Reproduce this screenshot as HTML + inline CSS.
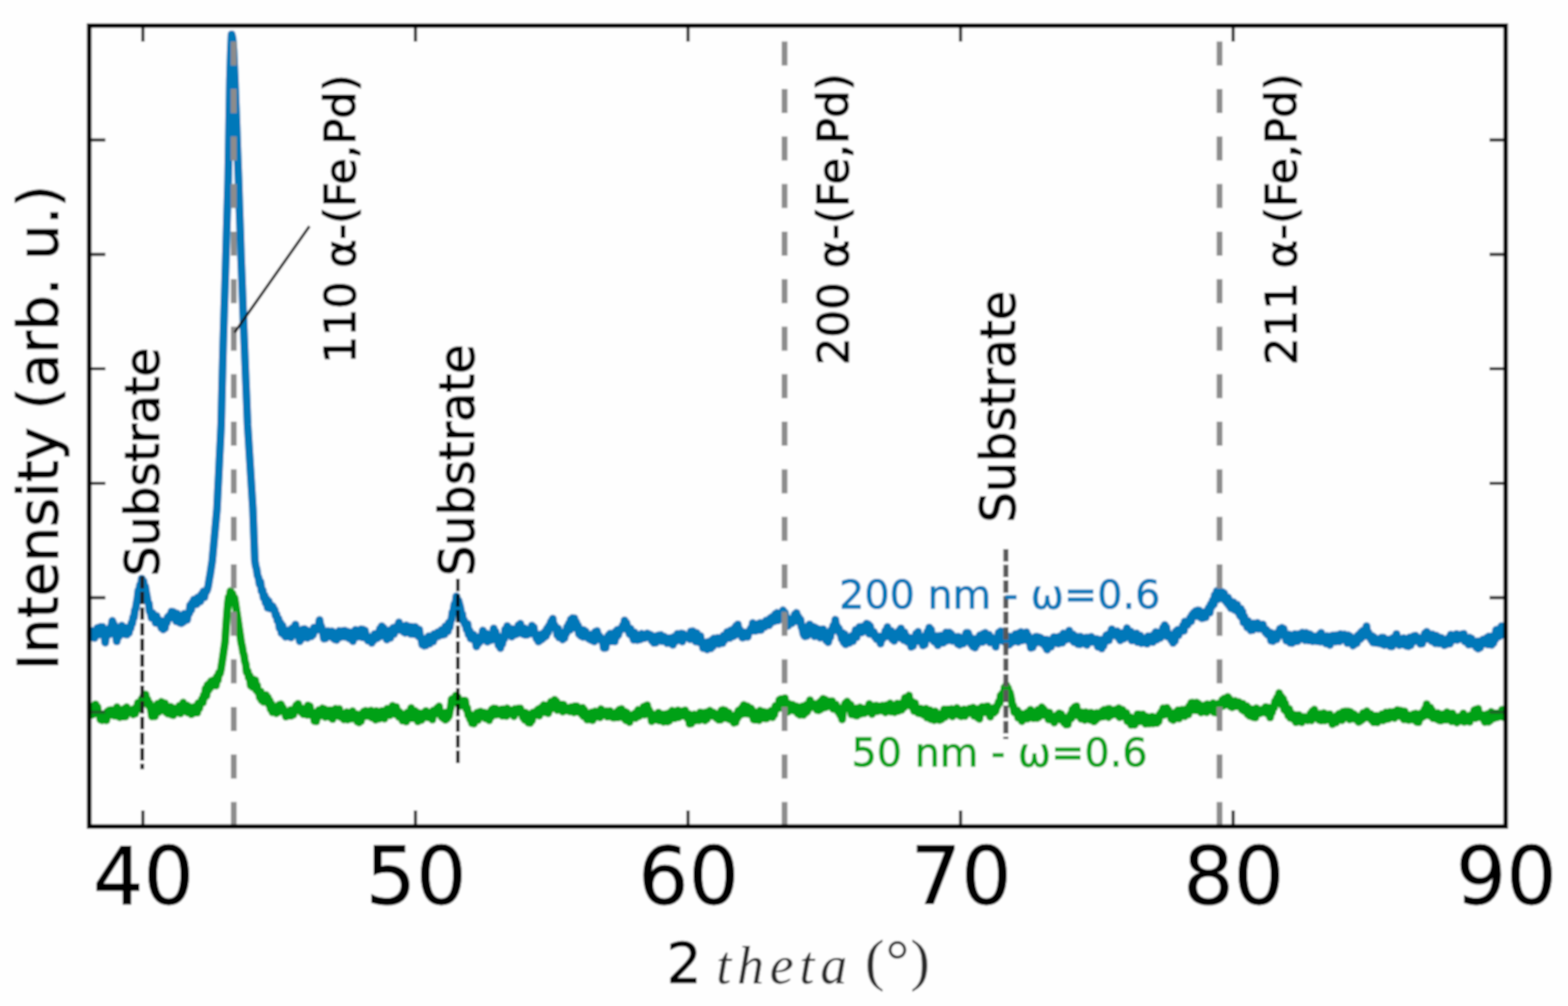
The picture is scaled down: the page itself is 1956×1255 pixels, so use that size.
<!DOCTYPE html>
<html lang="en"><head><meta charset="utf-8"><title>XRD pattern</title>
<style>html,body{margin:0;padding:0;background:#fefefe;overflow:hidden}svg{display:block}text{font-family:"DejaVu Sans","Liberation Sans",sans-serif;fill:#000}.it{font-family:"Liberation Serif","DejaVu Serif",serif;font-style:italic}.rm{font-family:"Liberation Serif","DejaVu Serif",serif}</style></head><body>
<svg width="1956" height="1255" viewBox="0 0 1956 1255">
<defs><clipPath id="ax"><rect x="111.3" y="31.9" width="1767.0" height="999.2"/></clipPath></defs>
<filter id="soft" x="0" y="0" width="100%" height="100%" filterUnits="userSpaceOnUse" primitiveUnits="userSpaceOnUse"><feGaussianBlur stdDeviation="1.1"/></filter>
<rect x="0" y="0" width="1956" height="1255" fill="#fefefe"/>
<g filter="url(#soft)">
<rect x="-20" y="-20" width="1996" height="1295" fill="#fefefe"/>
<g stroke="#333" stroke-width="3.8" fill="none" opacity="1">
<line x1="178.3" y1="1031.1" x2="178.3" y2="1011.1"/>
<line x1="178.3" y1="31.9" x2="178.3" y2="51.9"/>
<line x1="518.3" y1="1031.1" x2="518.3" y2="1011.1"/>
<line x1="518.3" y1="31.9" x2="518.3" y2="51.9"/>
<line x1="858.3" y1="1031.1" x2="858.3" y2="1011.1"/>
<line x1="858.3" y1="31.9" x2="858.3" y2="51.9"/>
<line x1="1198.3" y1="1031.1" x2="1198.3" y2="1011.1"/>
<line x1="1198.3" y1="31.9" x2="1198.3" y2="51.9"/>
<line x1="1538.3" y1="1031.1" x2="1538.3" y2="1011.1"/>
<line x1="1538.3" y1="31.9" x2="1538.3" y2="51.9"/>
<line x1="111.3" y1="174.6" x2="131.3" y2="174.6"/>
<line x1="1878.3" y1="174.6" x2="1858.3" y2="174.6"/>
<line x1="111.3" y1="317.4" x2="131.3" y2="317.4"/>
<line x1="1878.3" y1="317.4" x2="1858.3" y2="317.4"/>
<line x1="111.3" y1="460.1" x2="131.3" y2="460.1"/>
<line x1="1878.3" y1="460.1" x2="1858.3" y2="460.1"/>
<line x1="111.3" y1="602.9" x2="131.3" y2="602.9"/>
<line x1="1878.3" y1="602.9" x2="1858.3" y2="602.9"/>
<line x1="111.3" y1="745.6" x2="131.3" y2="745.6"/>
<line x1="1878.3" y1="745.6" x2="1858.3" y2="745.6"/>
<line x1="111.3" y1="888.4" x2="131.3" y2="888.4"/>
<line x1="1878.3" y1="888.4" x2="1858.3" y2="888.4"/>
</g>
<g clip-path="url(#ax)" fill="none" stroke-linejoin="round" stroke-linecap="butt">
<path d="M110.1 790.2 L111.3 795.3 L112.4 789.1 L113.5 795.3 L114.6 787.3 L115.8 792.0 L116.9 790.3 L118.0 795.8 L119.1 788.6 L120.3 792.1 L121.4 783.5 L122.4 791.8 L123.5 782.7 L124.6 790.1 L125.7 782.1 L126.8 786.6 L127.9 782.2 L129.0 791.6 L130.1 791.0 L131.2 801.7 L132.5 790.6 L133.8 793.3 L135.0 785.5 L136.3 791.4 L137.6 783.0 L138.8 783.0 L140.1 774.5 L141.4 778.2 L142.4 779.3 L143.5 788.1 L144.5 788.1 L145.6 800.1 L146.9 789.4 L148.1 794.4 L149.4 784.0 L150.7 790.1 L151.9 780.4 L153.2 788.0 L154.5 787.0 L155.7 791.2 L157.0 783.3 L158.3 791.6 L159.5 784.3 L160.8 789.5 L161.9 782.2 L162.9 784.0 L164.0 777.0 L165.0 777.9 L166.1 769.9 L167.1 770.3 L168.2 761.2 L169.2 759.5 L170.4 752.3 L171.5 746.5 L172.6 736.5 L173.7 737.7 L174.7 729.5 L175.8 734.9 L176.8 721.9 L177.9 732.2 L179.0 725.3 L180.0 732.6 L181.1 731.5 L182.2 738.7 L183.3 744.2 L184.4 751.1 L185.6 752.6 L186.7 762.6 L187.8 763.2 L189.1 770.8 L190.4 764.8 L191.6 770.6 L192.9 768.8 L194.1 777.1 L195.3 768.5 L196.5 776.0 L197.7 772.8 L198.9 778.9 L200.1 775.2 L201.3 783.4 L202.5 774.9 L203.6 785.3 L204.7 775.3 L205.8 783.7 L207.0 774.6 L208.1 776.9 L209.2 769.9 L210.3 772.2 L211.5 767.7 L212.7 770.7 L214.0 762.9 L215.3 766.8 L216.5 763.4 L217.6 771.1 L218.6 765.3 L219.7 775.0 L220.8 765.5 L221.8 774.4 L222.9 769.6 L223.9 776.8 L225.0 770.3 L226.2 777.4 L227.4 769.3 L228.6 776.0 L229.8 765.7 L231.0 774.0 L232.2 767.1 L233.4 773.3 L234.7 764.6 L236.0 765.3 L237.2 755.0 L238.5 760.8 L239.6 751.7 L240.7 753.5 L241.9 747.9 L243.0 754.1 L244.1 749.5 L245.2 753.7 L246.4 745.6 L247.5 750.1 L248.6 745.0 L249.9 750.4 L251.2 741.4 L252.4 746.3 L253.7 737.8 L255.0 745.1 L256.2 738.2 L257.5 738.0 L258.8 734.9 L259.9 730.0 L261.0 722.8 L262.1 716.9 L263.4 708.4 L264.7 700.0 L265.9 687.0 L267.1 674.0 L268.3 661.0 L269.5 648.0 L270.7 635.0 L271.7 614.0 L272.8 593.0 L273.8 572.0 L274.9 551.0 L275.9 530.0 L277.1 480.0 L278.4 430.0 L279.5 393.3 L280.7 356.7 L281.8 320.0 L283.2 272.2 L284.6 224.5 L285.9 150.0 L286.8 100.0 L288.0 62.0 L288.9 42.9 L290.1 48.0 L291.2 62.0 L292.1 81.0 L293.0 100.0 L293.9 125.0 L294.9 150.0 L296.2 187.2 L297.6 224.5 L298.6 256.3 L299.7 288.2 L300.7 320.0 L301.8 347.5 L302.8 375.0 L303.8 402.5 L304.9 430.0 L306.2 463.3 L307.6 496.7 L308.9 530.0 L310.0 547.5 L311.1 565.0 L312.2 582.5 L313.3 600.0 L314.4 617.5 L315.5 635.0 L316.7 667.5 L317.9 699.3 L319.0 706.3 L320.1 709.9 L321.2 717.8 L322.5 720.8 L323.8 729.1 L325.0 726.0 L326.3 737.7 L327.6 736.1 L328.8 746.0 L330.1 742.7 L331.4 752.4 L332.6 747.3 L333.9 758.3 L335.2 750.3 L336.4 759.1 L337.7 754.5 L339.0 759.8 L340.2 756.5 L341.5 759.7 L342.6 760.7 L343.8 768.3 L344.9 766.4 L346.1 774.6 L347.4 771.8 L348.7 783.8 L349.9 777.2 L351.2 789.9 L352.5 780.7 L353.7 791.5 L355.0 788.9 L356.1 794.4 L357.3 788.6 L358.4 792.5 L359.5 786.5 L360.6 794.3 L361.8 788.4 L362.9 795.2 L364.0 784.0 L365.1 788.5 L366.3 782.6 L367.4 788.0 L368.5 779.2 L369.6 787.7 L370.6 787.2 L371.7 793.4 L372.7 792.8 L373.9 799.9 L375.1 792.1 L376.3 797.1 L377.5 785.3 L378.7 794.4 L379.9 784.7 L381.1 790.5 L382.3 786.3 L383.5 795.7 L384.7 789.9 L385.9 792.9 L387.1 789.2 L388.2 793.8 L389.4 786.7 L390.5 791.8 L391.6 783.0 L392.7 787.5 L393.9 785.3 L395.0 785.6 L396.2 781.6 L397.4 781.9 L398.6 773.5 L399.8 780.3 L400.8 781.4 L401.9 787.8 L402.9 789.2 L404.0 796.8 L405.1 791.0 L406.2 796.4 L407.4 787.5 L408.5 792.6 L409.6 787.4 L410.7 790.1 L411.9 788.0 L413.0 794.2 L414.1 787.6 L415.3 796.0 L416.4 793.9 L417.5 797.7 L418.6 792.9 L419.8 798.4 L420.9 788.9 L422.0 795.5 L423.1 787.1 L424.3 795.1 L425.4 788.0 L426.6 793.1 L427.7 787.0 L428.9 794.2 L430.0 786.7 L431.1 794.4 L432.3 787.6 L433.4 793.0 L434.5 788.3 L435.6 796.6 L436.8 792.0 L437.9 796.3 L439.0 791.2 L440.1 799.9 L441.3 787.8 L442.4 794.9 L443.5 785.8 L444.6 794.9 L445.8 787.0 L446.9 790.9 L448.1 787.1 L449.3 793.8 L450.5 785.1 L451.7 795.1 L452.9 785.4 L454.1 794.9 L455.3 786.7 L456.5 796.2 L457.7 793.0 L459.0 799.3 L460.2 796.5 L461.4 799.7 L462.6 795.1 L463.8 802.1 L464.9 798.6 L466.0 799.0 L467.2 790.9 L468.3 796.1 L469.4 792.3 L470.5 796.3 L471.7 789.2 L472.8 794.7 L473.9 784.5 L475.0 792.9 L476.2 781.2 L477.3 789.8 L478.6 783.3 L479.8 791.1 L481.1 787.7 L482.4 797.9 L483.5 789.0 L484.6 793.4 L485.7 786.6 L486.9 795.7 L488.0 788.1 L489.1 790.1 L490.3 783.3 L491.5 790.9 L492.7 783.1 L493.9 785.4 L495.1 781.1 L496.3 785.9 L497.6 776.4 L498.7 784.6 L499.8 780.2 L500.9 786.3 L502.1 782.0 L503.2 788.1 L504.3 785.2 L505.4 789.4 L506.6 780.3 L507.7 788.9 L508.8 781.5 L509.9 787.5 L511.1 781.8 L512.2 790.8 L513.3 781.9 L514.4 789.5 L515.6 783.5 L516.9 791.1 L518.1 782.1 L519.3 789.4 L520.5 787.5 L521.7 793.6 L522.9 785.4 L524.2 795.8 L525.4 794.9 L526.7 804.2 L528.0 803.2 L529.1 805.6 L530.2 800.9 L531.3 805.1 L532.5 798.0 L533.6 800.9 L534.7 793.7 L535.8 803.1 L537.0 794.7 L538.1 800.6 L539.2 792.9 L540.3 800.3 L541.5 790.9 L542.6 796.0 L543.7 791.8 L544.8 793.5 L546.0 788.8 L547.3 793.6 L548.5 788.5 L549.7 791.5 L550.9 785.8 L552.1 791.9 L553.3 784.8 L554.4 791.4 L555.5 781.5 L556.5 787.8 L557.6 780.2 L558.7 787.6 L559.8 776.8 L560.9 782.6 L562.1 774.6 L563.2 772.8 L564.4 763.6 L565.6 762.3 L566.9 753.6 L568.1 754.9 L569.3 743.9 L570.6 750.8 L571.9 749.3 L573.2 754.0 L574.3 758.3 L575.5 766.1 L576.6 765.7 L577.7 774.8 L578.8 773.4 L579.8 778.9 L580.9 777.5 L582.0 785.4 L583.3 778.4 L584.5 791.6 L585.8 786.8 L587.1 796.5 L588.3 790.7 L589.5 797.4 L590.7 791.8 L591.9 798.9 L593.1 798.6 L594.3 806.4 L595.5 800.9 L596.6 803.2 L597.8 794.8 L598.9 800.5 L600.0 793.5 L601.1 794.1 L602.3 786.6 L603.4 794.4 L604.5 791.2 L605.6 798.3 L606.8 790.5 L607.9 800.6 L609.0 796.1 L610.1 799.1 L611.3 794.3 L612.4 798.7 L613.5 791.8 L614.6 796.6 L615.8 784.0 L617.0 792.7 L618.2 788.2 L619.4 798.6 L620.6 793.4 L621.8 805.0 L623.0 800.4 L624.2 808.5 L625.4 798.1 L626.6 803.4 L627.8 794.3 L629.0 797.3 L630.2 785.0 L631.5 791.1 L632.7 781.0 L633.8 786.7 L634.9 783.5 L636.0 790.3 L637.2 784.5 L638.3 794.3 L639.4 787.6 L640.6 791.5 L641.8 784.7 L643.0 791.5 L644.2 784.9 L645.4 790.6 L646.7 779.9 L647.9 783.9 L649.1 778.1 L650.3 786.0 L651.5 783.3 L652.7 791.1 L653.9 783.8 L655.1 792.1 L656.3 785.4 L657.5 791.8 L658.7 785.8 L659.9 788.8 L661.1 785.7 L662.3 790.3 L663.5 780.5 L664.7 787.7 L665.9 782.7 L667.0 791.8 L668.1 790.2 L669.3 797.0 L670.4 792.1 L671.5 800.4 L672.7 795.2 L673.9 799.1 L675.1 791.3 L676.3 797.3 L677.5 791.3 L678.7 795.1 L679.9 787.7 L681.2 793.5 L682.4 783.9 L683.6 789.1 L684.8 780.4 L686.0 781.1 L687.2 775.7 L688.4 775.4 L689.5 771.8 L690.6 783.3 L691.8 779.5 L692.9 784.9 L694.0 782.8 L695.1 792.4 L696.3 784.2 L697.4 795.3 L698.5 788.3 L699.7 794.8 L700.8 792.2 L701.9 797.8 L703.0 790.9 L704.2 795.9 L705.3 788.7 L706.4 790.3 L707.5 781.6 L708.7 785.1 L709.8 777.6 L710.9 785.9 L712.0 772.8 L713.2 779.2 L714.3 771.1 L715.4 776.1 L716.5 771.4 L717.7 783.2 L718.8 776.2 L719.9 784.8 L721.0 780.4 L722.2 791.0 L723.4 784.5 L724.6 793.3 L725.8 788.8 L727.0 794.5 L728.2 786.1 L729.4 793.9 L730.6 787.8 L731.8 795.0 L733.0 791.1 L734.2 796.8 L735.4 793.4 L736.6 798.1 L737.9 791.5 L739.1 799.2 L740.2 791.8 L741.3 800.3 L742.4 788.3 L743.6 794.1 L744.7 787.2 L745.8 795.1 L747.0 792.3 L748.2 797.5 L749.4 795.2 L750.6 799.8 L751.8 797.4 L753.1 808.4 L754.3 802.4 L755.4 808.3 L756.6 797.0 L757.7 800.9 L758.9 792.7 L760.0 800.1 L761.1 790.4 L762.3 800.1 L763.4 790.9 L764.5 797.5 L765.6 789.9 L766.8 800.2 L767.9 787.9 L769.0 794.7 L770.1 785.7 L771.3 792.1 L772.4 786.4 L773.5 786.9 L774.6 783.7 L775.8 784.6 L776.9 780.1 L778.0 783.2 L779.1 774.0 L780.3 780.2 L781.5 776.9 L782.8 786.2 L784.1 783.0 L785.3 790.9 L786.6 784.4 L787.9 793.1 L789.1 790.1 L790.4 798.3 L791.5 789.0 L792.7 796.5 L793.8 792.0 L794.9 798.5 L796.0 791.9 L797.2 798.0 L798.3 795.5 L799.4 797.4 L800.5 790.6 L801.7 796.4 L802.8 791.8 L803.9 796.1 L805.0 792.4 L806.2 794.9 L807.3 790.2 L808.4 793.7 L809.5 791.1 L810.7 792.3 L811.9 792.3 L813.2 799.5 L814.5 798.0 L815.7 802.0 L816.9 797.2 L818.1 801.7 L819.4 793.3 L820.6 797.3 L821.8 792.6 L823.0 796.8 L824.2 792.2 L825.3 799.8 L826.4 793.4 L827.6 797.3 L828.7 794.3 L829.8 799.9 L830.9 795.7 L832.1 802.3 L833.3 798.9 L834.6 801.2 L835.8 796.1 L837.0 802.9 L838.2 796.3 L839.4 804.4 L840.5 794.6 L841.6 801.2 L842.8 796.1 L843.9 798.8 L845.0 790.7 L846.1 798.5 L847.3 792.2 L848.5 795.6 L849.7 790.3 L851.0 800.4 L852.2 790.8 L853.4 795.1 L854.6 793.9 L855.8 795.3 L857.0 792.7 L858.2 794.6 L859.4 792.8 L860.6 797.5 L861.8 787.7 L863.0 794.5 L864.2 787.5 L865.4 797.0 L866.6 789.4 L867.8 800.4 L869.1 789.6 L870.3 796.5 L871.5 794.1 L872.6 801.5 L873.7 793.4 L874.8 801.5 L876.0 799.8 L877.1 808.5 L878.2 803.6 L879.5 807.8 L880.8 803.2 L882.0 810.2 L883.3 800.8 L884.5 807.1 L885.7 800.4 L886.9 808.8 L888.1 798.4 L889.3 806.3 L890.5 796.5 L891.7 803.8 L892.9 798.3 L894.1 802.6 L895.3 795.8 L896.6 803.5 L897.8 798.1 L899.0 801.3 L900.2 795.2 L901.3 802.3 L902.4 793.0 L903.6 798.9 L904.7 792.0 L905.8 795.4 L906.9 788.5 L908.1 792.9 L909.2 788.7 L910.3 795.9 L911.4 786.4 L912.6 791.1 L913.7 787.7 L914.8 793.8 L915.9 783.8 L917.1 792.3 L918.2 780.8 L919.3 788.3 L920.4 779.0 L921.6 790.7 L922.7 785.5 L923.8 792.0 L924.9 790.3 L926.1 795.6 L927.2 788.8 L928.3 794.8 L929.4 789.3 L930.6 793.1 L931.7 790.3 L932.8 794.4 L934.0 787.7 L935.2 788.2 L936.5 783.9 L937.8 787.2 L939.0 777.3 L940.1 781.6 L941.3 779.3 L942.4 786.9 L943.5 779.4 L944.6 784.7 L945.8 778.3 L947.0 785.9 L948.2 777.2 L949.4 785.9 L950.6 777.6 L951.8 782.6 L953.0 779.6 L954.2 782.0 L955.5 774.3 L956.8 778.8 L958.0 775.4 L959.3 780.1 L960.4 771.6 L961.5 777.5 L962.7 770.0 L963.8 773.7 L964.9 768.6 L966.0 775.1 L967.2 765.9 L968.3 773.6 L969.4 764.6 L970.6 774.1 L971.8 765.9 L973.0 771.6 L974.2 764.4 L975.4 767.9 L976.7 761.3 L977.9 769.3 L979.1 764.3 L980.4 773.3 L981.7 771.6 L982.9 780.7 L984.2 772.3 L985.5 776.9 L986.7 772.7 L988.0 777.5 L989.1 772.3 L990.2 775.6 L991.4 766.4 L992.5 772.6 L993.6 764.6 L994.7 770.7 L996.0 769.5 L997.3 776.3 L998.5 772.7 L999.8 782.2 L1000.9 784.1 L1002.1 790.6 L1003.2 792.9 L1004.3 794.0 L1005.4 785.0 L1006.6 793.2 L1007.7 781.4 L1008.8 790.6 L1009.9 778.9 L1011.2 789.6 L1012.5 781.8 L1013.7 789.4 L1015.0 782.1 L1016.1 793.8 L1017.3 783.2 L1018.4 792.7 L1019.5 785.3 L1020.6 793.4 L1021.8 785.2 L1023.0 795.5 L1024.3 786.6 L1025.6 793.0 L1026.8 785.0 L1028.1 790.7 L1029.4 790.4 L1030.6 799.1 L1031.9 798.5 L1033.2 801.3 L1034.4 794.0 L1035.7 795.0 L1037.0 785.8 L1038.2 788.2 L1039.5 780.4 L1040.8 784.8 L1042.0 773.1 L1043.2 782.0 L1044.3 781.1 L1045.4 786.6 L1046.5 783.9 L1047.7 789.9 L1048.8 789.9 L1050.0 797.3 L1051.2 789.7 L1052.4 801.4 L1053.6 791.1 L1054.8 803.8 L1056.0 797.3 L1057.2 802.7 L1058.4 798.0 L1059.5 802.1 L1060.6 794.6 L1061.7 800.3 L1062.9 793.2 L1064.0 799.8 L1065.1 791.4 L1066.2 795.4 L1067.4 785.8 L1068.5 795.0 L1069.6 786.8 L1070.7 789.7 L1071.9 782.3 L1073.0 787.2 L1074.1 784.9 L1075.3 789.0 L1076.4 781.6 L1077.5 785.9 L1078.6 783.1 L1079.8 784.9 L1080.9 778.0 L1082.0 786.9 L1083.2 779.0 L1084.3 790.7 L1085.4 781.1 L1086.6 788.7 L1087.7 787.6 L1088.9 790.7 L1090.0 788.3 L1091.2 794.5 L1092.4 792.3 L1093.6 797.6 L1094.8 794.0 L1096.0 798.2 L1097.2 795.1 L1098.4 802.9 L1099.7 793.7 L1100.9 797.0 L1102.1 792.9 L1103.3 795.0 L1104.5 786.8 L1105.7 793.5 L1106.9 782.3 L1108.1 793.7 L1109.3 787.9 L1110.5 792.0 L1111.7 787.0 L1112.9 797.5 L1114.1 790.3 L1115.3 799.6 L1116.5 790.3 L1117.7 795.2 L1119.0 791.0 L1120.2 792.3 L1121.4 786.9 L1122.6 795.7 L1123.8 784.0 L1124.9 793.7 L1126.0 787.6 L1127.2 798.5 L1128.3 789.0 L1129.4 799.0 L1130.5 793.5 L1131.7 800.6 L1132.9 796.8 L1134.2 800.7 L1135.4 795.9 L1136.6 807.0 L1137.8 798.5 L1139.0 805.8 L1140.2 798.1 L1141.5 801.0 L1142.8 790.5 L1144.0 795.9 L1145.2 788.3 L1146.5 796.7 L1147.7 794.3 L1148.9 801.1 L1150.1 796.2 L1151.3 805.3 L1152.5 796.6 L1153.6 804.1 L1154.7 792.6 L1155.9 794.4 L1157.0 787.8 L1158.1 792.0 L1159.2 782.9 L1160.4 790.1 L1161.5 785.7 L1162.6 797.6 L1163.7 792.9 L1164.9 800.2 L1166.0 795.4 L1167.3 801.7 L1168.5 793.4 L1169.8 805.0 L1171.1 795.6 L1172.2 800.7 L1173.3 793.0 L1174.4 799.4 L1175.6 794.8 L1176.7 801.9 L1177.8 794.0 L1178.9 797.4 L1180.1 788.9 L1181.2 799.4 L1182.3 790.6 L1183.4 794.7 L1184.6 789.1 L1185.7 793.3 L1186.8 791.0 L1188.0 799.6 L1189.1 793.6 L1190.2 797.2 L1191.3 794.7 L1192.5 798.0 L1193.6 794.6 L1194.7 803.4 L1195.8 794.5 L1197.0 804.5 L1198.1 796.3 L1199.3 800.4 L1200.5 796.4 L1201.7 802.8 L1202.9 794.7 L1204.1 796.1 L1205.3 789.5 L1206.5 793.2 L1207.7 789.4 L1208.9 795.3 L1210.1 794.5 L1211.4 803.7 L1212.6 798.3 L1213.8 806.8 L1215.0 801.5 L1216.2 808.0 L1217.4 796.9 L1218.6 804.2 L1219.8 797.9 L1221.0 799.0 L1222.2 792.6 L1223.4 797.7 L1224.5 794.5 L1225.7 800.9 L1226.8 790.4 L1227.9 796.3 L1229.0 789.5 L1230.2 798.6 L1231.3 792.3 L1232.4 795.9 L1233.6 791.9 L1234.8 801.5 L1236.0 794.5 L1237.2 798.7 L1238.4 797.1 L1239.6 800.6 L1240.8 797.9 L1242.0 806.9 L1243.3 798.3 L1244.5 798.7 L1245.8 789.3 L1247.1 798.9 L1248.3 787.4 L1249.6 795.6 L1250.9 791.7 L1252.1 800.3 L1253.3 792.3 L1254.4 800.6 L1255.5 794.9 L1256.6 798.6 L1257.8 796.4 L1258.9 804.3 L1260.0 794.3 L1261.1 802.1 L1262.3 794.9 L1263.4 800.8 L1264.5 793.9 L1265.6 799.7 L1266.8 790.9 L1267.9 797.3 L1269.0 791.7 L1270.1 800.8 L1271.3 789.7 L1272.4 796.1 L1273.5 788.5 L1274.6 799.1 L1275.8 792.3 L1276.9 795.4 L1278.0 791.6 L1279.2 793.7 L1280.3 788.7 L1281.4 799.0 L1282.5 792.7 L1283.7 800.8 L1284.8 800.8 L1285.9 808.3 L1287.0 797.4 L1288.2 807.5 L1289.3 796.5 L1290.4 803.4 L1291.5 794.6 L1292.7 799.5 L1293.8 794.3 L1294.9 799.9 L1296.0 795.0 L1297.2 801.0 L1298.3 795.9 L1299.4 802.4 L1300.5 797.5 L1301.7 803.2 L1302.8 799.4 L1303.9 806.6 L1305.0 797.9 L1306.2 810.4 L1307.4 798.5 L1308.6 807.9 L1309.8 799.7 L1311.0 806.7 L1312.2 797.9 L1313.4 800.1 L1314.6 794.7 L1315.8 802.3 L1317.0 795.2 L1318.2 801.5 L1319.3 795.2 L1320.5 802.9 L1321.7 793.9 L1322.9 799.9 L1324.1 793.2 L1325.3 801.7 L1326.4 790.3 L1327.6 798.9 L1328.9 791.9 L1330.1 798.0 L1331.3 792.5 L1332.5 795.5 L1333.7 786.8 L1334.9 796.0 L1336.1 791.3 L1337.3 798.3 L1338.5 791.5 L1339.7 801.0 L1340.9 793.5 L1342.1 798.7 L1343.3 794.4 L1344.5 803.5 L1345.6 795.5 L1346.7 803.8 L1347.8 794.3 L1349.0 801.4 L1350.1 796.9 L1351.2 802.5 L1352.3 796.8 L1353.5 802.2 L1354.6 795.4 L1355.7 804.6 L1356.8 795.4 L1358.0 800.2 L1359.1 797.0 L1360.2 801.1 L1361.3 794.4 L1362.5 799.4 L1363.6 797.0 L1364.8 800.9 L1366.0 797.2 L1367.1 800.6 L1368.3 797.2 L1369.5 806.9 L1370.7 798.6 L1371.9 807.2 L1373.1 798.3 L1374.2 809.1 L1375.4 799.2 L1376.5 805.9 L1377.7 797.1 L1378.8 800.8 L1379.9 792.6 L1381.0 798.8 L1382.2 791.5 L1383.3 798.8 L1384.4 790.2 L1385.5 792.7 L1386.7 785.0 L1387.8 792.7 L1388.9 786.9 L1390.1 789.7 L1391.3 787.8 L1392.5 792.0 L1393.8 787.6 L1395.0 795.4 L1396.2 793.0 L1397.4 798.9 L1398.6 792.0 L1399.8 797.2 L1401.0 789.4 L1402.2 796.5 L1403.4 788.5 L1404.6 791.5 L1405.8 783.6 L1407.0 794.5 L1408.2 790.0 L1409.4 794.6 L1410.6 787.8 L1411.8 799.1 L1413.1 793.0 L1414.3 795.1 L1415.4 791.8 L1416.6 798.1 L1417.7 790.2 L1418.9 801.0 L1420.0 793.9 L1421.2 799.3 L1422.4 793.0 L1423.6 802.4 L1424.8 795.6 L1426.0 800.1 L1427.2 796.7 L1428.4 802.0 L1429.7 797.1 L1430.9 803.1 L1432.1 793.8 L1433.3 800.6 L1434.5 795.8 L1435.7 798.3 L1436.9 793.2 L1438.1 801.0 L1439.3 791.8 L1440.5 796.9 L1441.7 788.4 L1442.9 798.0 L1444.1 790.0 L1445.3 794.5 L1446.4 789.5 L1447.5 795.9 L1448.6 788.0 L1449.7 791.5 L1450.8 782.9 L1451.8 788.1 L1452.9 779.7 L1454.0 791.6 L1455.0 782.6 L1456.1 794.1 L1457.2 789.6 L1458.4 793.7 L1459.7 791.7 L1461.0 798.5 L1462.2 796.4 L1463.3 802.1 L1464.5 794.0 L1465.6 799.6 L1466.7 787.8 L1467.9 793.5 L1469.0 785.7 L1470.1 792.5 L1471.2 786.7 L1472.4 788.5 L1473.5 784.9 L1474.6 787.4 L1475.7 780.1 L1476.9 786.8 L1478.0 775.4 L1479.1 780.2 L1480.2 775.5 L1481.4 779.8 L1482.5 774.5 L1483.6 776.2 L1484.7 770.7 L1485.9 775.2 L1487.0 766.9 L1488.1 768.7 L1489.2 764.2 L1490.4 768.8 L1491.5 762.3 L1492.6 767.7 L1493.7 761.5 L1494.9 767.5 L1496.0 761.7 L1497.1 770.0 L1498.2 765.0 L1499.4 771.3 L1500.5 764.3 L1501.6 770.7 L1502.8 763.8 L1504.0 770.2 L1505.3 762.1 L1506.6 764.6 L1507.8 758.1 L1509.1 764.3 L1510.4 753.6 L1511.6 757.0 L1512.9 748.7 L1514.2 754.0 L1515.4 742.2 L1516.7 746.1 L1518.0 737.2 L1519.1 747.6 L1520.2 738.7 L1521.3 746.5 L1522.5 738.2 L1523.6 743.7 L1524.7 738.6 L1525.8 746.3 L1527.0 740.2 L1528.1 749.3 L1529.4 746.2 L1530.6 752.4 L1531.9 745.5 L1533.2 755.5 L1534.3 749.5 L1535.4 758.7 L1536.5 751.1 L1537.7 757.8 L1538.8 751.5 L1539.9 760.8 L1541.0 755.2 L1542.2 759.0 L1543.3 754.4 L1544.4 763.8 L1545.5 759.2 L1546.7 767.9 L1547.8 759.4 L1548.9 770.5 L1550.0 763.3 L1551.2 776.6 L1552.3 769.1 L1553.4 778.1 L1554.5 776.6 L1555.7 782.5 L1556.8 774.8 L1557.9 782.9 L1559.0 778.5 L1560.2 786.4 L1561.4 780.4 L1562.6 786.1 L1563.8 777.7 L1565.0 783.4 L1566.2 779.2 L1567.4 783.4 L1568.6 777.1 L1569.7 784.4 L1570.9 779.1 L1572.0 783.7 L1573.1 780.0 L1574.2 784.9 L1575.4 779.1 L1576.5 785.0 L1577.6 784.2 L1578.8 789.3 L1579.9 785.6 L1581.0 791.7 L1582.1 788.1 L1583.3 792.0 L1584.4 788.9 L1585.5 799.3 L1586.6 789.9 L1587.8 799.9 L1588.9 795.3 L1590.2 798.0 L1591.4 794.2 L1592.7 797.6 L1594.0 788.9 L1595.2 793.6 L1596.5 784.6 L1597.8 791.4 L1599.0 783.2 L1600.1 790.0 L1601.3 784.3 L1602.4 793.6 L1603.5 790.4 L1604.6 799.3 L1605.8 796.4 L1607.0 799.4 L1608.2 791.6 L1609.4 802.1 L1610.6 792.5 L1611.8 802.2 L1613.0 795.5 L1614.2 800.6 L1615.3 791.1 L1616.5 796.9 L1617.6 791.6 L1618.7 799.9 L1619.8 791.2 L1621.0 797.6 L1622.1 790.9 L1623.2 795.9 L1624.4 789.2 L1625.6 795.2 L1626.8 790.1 L1628.0 798.7 L1629.2 789.5 L1630.4 798.1 L1631.6 791.3 L1632.8 799.1 L1633.9 791.3 L1635.0 798.2 L1636.2 792.8 L1637.3 800.0 L1638.4 793.6 L1639.5 797.0 L1640.8 794.6 L1642.0 799.8 L1643.2 793.9 L1644.4 800.0 L1645.6 791.8 L1646.8 800.6 L1648.0 789.4 L1649.2 799.8 L1650.4 793.5 L1651.6 797.5 L1652.8 793.9 L1654.0 802.8 L1655.2 793.4 L1656.4 801.3 L1657.6 797.8 L1658.9 804.6 L1660.1 793.6 L1661.3 800.9 L1662.5 792.7 L1663.7 798.1 L1664.9 792.8 L1666.1 800.4 L1667.3 792.4 L1668.5 797.7 L1669.7 795.0 L1670.9 800.2 L1672.1 790.9 L1673.3 797.5 L1674.5 795.7 L1675.7 797.2 L1676.9 791.4 L1678.2 798.9 L1679.4 793.3 L1680.6 802.2 L1681.8 792.4 L1683.0 799.2 L1684.2 793.8 L1685.4 799.7 L1686.6 798.1 L1687.8 805.4 L1689.0 800.6 L1690.2 803.7 L1691.3 798.3 L1692.5 802.5 L1693.6 793.0 L1694.7 798.4 L1695.8 791.1 L1697.0 797.2 L1698.1 788.4 L1699.1 795.1 L1700.2 786.8 L1701.3 792.0 L1702.4 786.8 L1703.5 790.3 L1704.6 781.2 L1705.8 790.6 L1706.9 788.4 L1708.1 795.0 L1709.3 793.2 L1710.5 798.5 L1711.6 793.5 L1712.7 801.5 L1713.9 795.0 L1715.0 801.7 L1716.1 799.8 L1717.2 802.0 L1718.4 798.7 L1719.6 802.4 L1720.9 797.0 L1722.1 802.3 L1723.3 795.4 L1724.5 803.7 L1725.7 795.5 L1726.9 804.7 L1728.1 797.2 L1729.3 803.9 L1730.5 799.4 L1731.7 802.9 L1732.9 797.7 L1734.1 806.3 L1735.3 800.8 L1736.4 806.4 L1737.5 795.9 L1738.6 802.4 L1739.8 794.5 L1740.9 797.5 L1742.0 790.9 L1743.2 799.0 L1744.3 795.6 L1745.4 804.8 L1746.6 798.3 L1747.7 803.3 L1748.8 797.6 L1750.0 803.2 L1751.2 796.1 L1752.4 804.8 L1753.6 801.8 L1754.8 805.8 L1756.0 802.5 L1757.2 806.2 L1758.5 795.3 L1759.7 804.9 L1760.9 797.4 L1762.1 801.2 L1763.3 793.6 L1764.5 797.7 L1765.7 792.9 L1766.9 797.7 L1768.1 794.8 L1769.3 800.4 L1770.5 796.0 L1771.7 803.3 L1772.9 797.2 L1774.1 802.9 L1775.2 794.7 L1776.3 796.4 L1777.4 790.0 L1778.6 797.2 L1779.7 788.2 L1780.9 796.9 L1782.1 790.4 L1783.3 796.0 L1784.5 791.6 L1785.7 799.8 L1786.9 791.4 L1788.1 798.5 L1789.3 797.3 L1790.4 802.5 L1791.5 792.9 L1792.6 801.5 L1793.8 794.5 L1794.9 802.7 L1796.0 796.6 L1797.1 802.5 L1798.3 795.8 L1799.4 800.6 L1800.5 798.0 L1801.6 805.0 L1802.8 798.8 L1803.9 804.2 L1805.0 799.4 L1806.2 802.8 L1807.4 795.3 L1808.6 803.0 L1809.8 791.7 L1811.0 799.6 L1812.3 793.9 L1813.5 796.9 L1814.6 793.8 L1815.7 796.4 L1816.8 790.9 L1818.0 798.4 L1819.1 792.7 L1820.2 796.1 L1821.3 793.5 L1822.5 796.1 L1823.6 791.3 L1824.8 797.2 L1826.0 790.7 L1827.2 800.4 L1828.4 795.1 L1829.6 801.1 L1830.8 798.2 L1832.0 804.2 L1833.2 795.5 L1834.4 803.2 L1835.6 796.7 L1836.8 803.7 L1837.9 800.5 L1839.1 804.4 L1840.3 801.6 L1841.5 807.5 L1842.7 800.2 L1843.9 809.2 L1845.1 802.9 L1846.3 808.0 L1847.5 799.4 L1848.7 804.4 L1849.9 797.8 L1851.1 803.2 L1852.3 798.0 L1853.5 802.3 L1854.7 795.6 L1855.9 804.1 L1857.1 794.1 L1858.3 801.2 L1859.5 794.2 L1860.7 804.5 L1861.9 793.5 L1863.0 802.2 L1864.1 793.3 L1865.3 797.7 L1866.4 785.8 L1867.5 790.7 L1868.6 785.2 L1869.8 794.1 L1870.9 785.7 L1872.0 792.5 L1873.1 781.2 L1874.3 789.0 L1875.5 784.7 L1876.7 787.6 L1877.9 780.7 L1879.1 788.5 L1880.3 783.3 L1881.5 788.3 L1882.7 785.3" stroke="#0078b9" stroke-width="10"/>
<path d="M110.1 883.5 L111.3 891.7 L112.4 881.8 L113.5 892.0 L114.6 881.4 L115.8 891.2 L116.9 884.6 L118.0 887.9 L119.1 878.8 L120.3 887.8 L121.5 882.0 L122.8 891.0 L124.1 890.1 L125.3 897.8 L126.5 891.9 L127.7 898.6 L129.0 893.9 L130.2 895.7 L131.4 891.5 L132.6 898.6 L133.8 887.8 L135.0 893.2 L136.2 886.2 L137.4 891.6 L138.6 885.7 L139.8 890.1 L141.0 887.7 L142.2 892.8 L143.4 886.1 L144.6 889.6 L145.8 882.3 L147.0 893.7 L148.3 886.6 L149.5 894.7 L150.7 885.7 L151.9 893.1 L153.1 887.0 L154.3 894.1 L155.5 883.9 L156.7 893.8 L157.9 882.3 L159.1 889.6 L160.3 885.0 L161.5 888.9 L162.7 886.2 L163.9 888.3 L165.1 885.3 L166.3 891.3 L167.6 886.9 L168.7 890.3 L169.8 882.3 L170.9 885.4 L172.1 876.8 L173.2 883.6 L174.3 876.8 L175.5 880.8 L176.7 872.0 L177.9 875.9 L179.1 867.8 L180.3 873.0 L181.5 866.4 L182.8 874.2 L184.0 872.4 L185.3 880.3 L186.6 877.0 L187.8 882.4 L189.5 893.7 L190.8 892.9 L192.0 888.5 L193.3 893.6 L194.6 884.2 L195.7 889.3 L196.8 877.9 L198.0 888.1 L199.1 878.9 L200.2 882.6 L201.3 875.6 L202.5 884.6 L203.6 879.6 L204.7 886.2 L205.8 877.5 L207.0 888.5 L208.1 883.4 L209.2 890.2 L210.3 883.8 L211.5 887.6 L212.6 881.7 L213.7 891.5 L214.8 884.0 L216.0 892.3 L217.1 883.6 L218.2 889.7 L219.3 884.7 L220.5 887.8 L221.6 884.8 L222.7 886.5 L223.8 880.4 L225.0 890.1 L226.1 882.1 L227.2 883.7 L228.4 876.5 L229.5 886.1 L230.6 880.2 L231.7 885.0 L232.9 879.8 L234.0 888.8 L235.1 881.1 L236.3 887.4 L237.5 884.2 L238.7 891.1 L239.9 885.3 L241.1 889.7 L242.3 881.9 L243.6 888.7 L244.8 880.8 L246.1 889.0 L247.4 877.2 L248.6 883.9 L249.7 876.0 L250.9 878.0 L252.0 871.8 L253.1 876.3 L254.2 867.0 L255.4 870.2 L256.5 858.9 L257.6 867.9 L258.8 854.6 L259.9 861.2 L261.0 852.8 L262.1 858.2 L263.3 849.8 L264.5 854.3 L265.7 848.8 L267.0 852.1 L268.2 847.5 L269.4 855.3 L270.6 843.8 L271.8 848.5 L273.1 839.2 L274.4 840.5 L275.6 835.1 L276.9 826.7 L278.2 818.2 L279.4 809.8 L280.7 801.3 L281.8 784.7 L283.0 768.1 L284.1 754.3 L285.2 745.0 L286.3 746.7 L287.5 737.4 L288.7 745.7 L290.0 740.7 L291.3 747.3 L292.5 745.6 L293.7 752.9 L294.8 760.2 L295.9 767.6 L297.2 776.0 L298.4 784.4 L299.7 792.9 L301.0 802.2 L302.1 806.5 L303.2 813.6 L304.4 817.5 L305.5 825.1 L306.6 828.5 L307.7 838.8 L309.0 837.1 L310.3 845.7 L311.5 843.1 L312.8 855.4 L313.9 848.7 L315.0 857.1 L316.2 847.6 L317.3 858.0 L318.4 848.7 L319.5 860.8 L320.7 854.8 L321.8 863.6 L322.9 861.6 L324.1 870.3 L325.2 862.7 L326.3 873.7 L327.4 866.6 L328.6 875.6 L329.7 866.9 L330.8 873.1 L331.9 867.2 L333.1 876.0 L334.2 870.1 L335.3 879.0 L336.4 874.2 L337.6 884.9 L338.7 878.1 L339.8 888.5 L341.1 883.9 L342.3 886.3 L343.6 882.4 L344.9 889.8 L346.0 883.2 L347.1 888.4 L348.3 879.3 L349.4 883.1 L350.5 878.5 L351.6 882.3 L352.9 882.9 L354.2 887.7 L355.4 887.5 L356.7 894.0 L357.8 890.4 L359.0 892.1 L360.1 887.8 L361.2 892.9 L362.3 885.8 L363.5 892.9 L364.7 885.9 L365.9 891.7 L367.1 884.3 L368.3 886.1 L369.5 879.9 L370.7 883.2 L371.9 878.0 L373.2 886.6 L374.4 882.6 L375.7 888.5 L377.0 887.0 L378.2 890.9 L379.4 885.4 L380.6 890.3 L381.8 883.3 L383.0 891.8 L384.2 880.0 L385.4 886.9 L386.5 881.1 L387.7 892.1 L388.8 887.5 L389.9 893.2 L391.0 890.2 L392.2 899.5 L393.3 889.2 L394.4 899.9 L395.5 889.2 L396.7 894.6 L397.8 885.8 L398.9 890.8 L400.1 888.2 L401.2 892.0 L402.3 883.6 L403.4 889.3 L404.6 884.6 L405.7 894.6 L406.8 887.1 L407.9 893.2 L409.1 889.1 L410.2 893.5 L411.3 886.1 L412.4 895.1 L413.6 886.3 L414.8 897.1 L416.1 887.3 L417.3 892.5 L418.5 884.2 L419.7 892.9 L420.9 886.4 L422.0 892.0 L423.2 884.5 L424.3 894.3 L425.4 889.6 L426.6 895.4 L427.7 891.8 L428.9 897.5 L430.0 891.3 L431.2 895.8 L432.4 888.5 L433.6 897.8 L434.8 891.7 L436.0 895.2 L437.2 889.3 L438.4 896.5 L439.7 887.2 L440.9 895.1 L442.1 892.5 L443.3 897.0 L444.5 890.9 L445.7 900.2 L446.9 895.4 L448.0 901.3 L449.1 893.0 L450.3 899.7 L451.4 890.2 L452.5 894.8 L453.6 887.8 L454.8 893.6 L455.9 886.8 L457.0 891.5 L458.1 887.4 L459.3 893.3 L460.4 887.2 L461.5 893.1 L462.7 886.4 L463.8 895.2 L464.9 891.1 L466.0 894.0 L467.2 889.5 L468.3 897.9 L469.4 886.9 L470.5 895.6 L471.7 891.4 L472.8 896.6 L473.9 888.8 L475.0 895.2 L476.2 887.0 L477.3 895.2 L478.4 888.0 L479.5 896.5 L480.7 888.2 L481.8 892.7 L482.9 884.2 L484.0 890.2 L485.2 885.7 L486.3 892.2 L487.4 885.5 L488.5 890.7 L489.7 880.5 L490.8 887.0 L491.9 883.1 L493.1 891.1 L494.2 882.0 L495.3 889.9 L496.4 886.6 L497.6 894.4 L498.7 888.7 L499.8 895.4 L500.9 892.9 L502.1 899.1 L503.2 891.5 L504.3 898.5 L505.5 894.6 L506.7 900.2 L507.9 889.1 L509.1 896.9 L510.3 890.9 L511.5 894.8 L512.8 883.3 L514.0 895.9 L515.2 886.2 L516.4 892.1 L517.6 886.9 L518.8 894.5 L520.0 889.4 L521.2 900.0 L522.3 889.4 L523.4 894.7 L524.6 891.0 L525.7 898.3 L526.8 891.0 L528.0 895.8 L529.1 888.8 L530.2 892.6 L531.3 886.9 L532.5 892.1 L533.6 890.9 L534.7 895.1 L535.8 892.2 L537.0 894.5 L538.1 890.6 L539.3 897.6 L540.5 886.5 L541.7 891.8 L542.9 886.5 L544.1 890.4 L545.3 883.2 L546.5 889.0 L547.7 881.2 L548.8 890.6 L549.9 888.3 L551.0 894.6 L552.2 890.1 L553.3 896.5 L554.4 889.2 L555.5 898.0 L556.7 889.0 L557.8 896.4 L558.9 890.6 L560.0 893.4 L561.2 886.4 L562.3 882.4 L563.4 872.3 L564.7 876.0 L566.0 872.2 L567.2 875.6 L568.5 867.7 L569.8 874.6 L571.0 869.5 L572.3 878.9 L573.6 874.7 L574.7 880.4 L575.8 875.8 L576.9 878.5 L578.1 874.1 L579.2 880.3 L580.3 874.1 L581.6 884.9 L582.8 882.8 L584.1 892.4 L585.4 890.3 L586.5 897.6 L587.6 897.0 L588.8 902.3 L590.0 894.0 L591.3 902.7 L592.6 895.4 L593.8 897.0 L594.9 889.2 L596.1 898.4 L597.2 888.4 L598.3 893.8 L599.4 887.7 L600.6 893.3 L601.8 889.8 L603.0 894.6 L604.2 889.1 L605.4 896.2 L606.6 891.8 L607.8 896.4 L609.0 890.8 L610.1 898.6 L611.3 888.2 L612.4 894.6 L613.5 885.1 L614.6 892.2 L615.8 883.7 L617.0 891.6 L618.2 883.9 L619.4 891.6 L620.6 888.4 L621.8 890.6 L623.0 888.7 L624.2 891.6 L625.4 885.0 L626.6 893.0 L627.8 884.7 L629.0 889.4 L630.2 885.3 L631.5 893.3 L632.7 883.6 L633.9 890.8 L635.1 885.4 L636.3 890.0 L637.5 888.0 L638.7 891.2 L639.9 887.8 L641.1 893.5 L642.2 884.4 L643.4 889.9 L644.5 885.6 L645.6 888.4 L646.7 883.8 L647.9 886.2 L649.0 883.7 L650.1 890.0 L651.2 887.6 L652.4 895.3 L653.5 888.6 L654.6 898.2 L655.7 889.1 L656.9 898.4 L658.0 892.0 L659.1 901.6 L660.2 895.6 L661.4 901.8 L662.5 894.1 L663.6 899.0 L664.7 888.9 L665.9 893.4 L667.0 889.0 L668.1 889.8 L669.3 886.8 L670.4 889.0 L671.5 884.8 L672.6 892.8 L673.8 883.8 L674.9 888.0 L676.0 882.1 L677.1 886.7 L678.3 879.6 L679.4 888.5 L680.5 882.7 L681.6 885.9 L682.8 879.9 L683.9 889.8 L685.0 880.0 L686.1 885.5 L687.3 875.4 L688.4 880.4 L689.5 877.6 L690.6 881.8 L691.8 872.9 L692.9 877.8 L694.0 874.9 L695.1 885.8 L696.3 877.9 L697.4 885.1 L698.5 883.1 L699.7 885.2 L700.8 879.0 L701.9 887.8 L703.0 879.2 L704.2 885.8 L705.3 883.4 L706.4 886.2 L707.5 882.9 L708.7 886.6 L709.9 883.4 L711.1 887.5 L712.3 882.1 L713.5 884.6 L714.7 882.7 L715.9 888.7 L717.1 880.9 L718.3 886.4 L719.5 881.1 L720.7 888.0 L721.9 884.3 L723.1 888.2 L724.3 885.6 L725.5 890.9 L726.7 883.0 L727.8 893.5 L728.9 885.6 L730.1 893.6 L731.2 892.5 L732.3 897.7 L733.4 890.9 L734.6 897.5 L735.7 891.1 L736.8 897.4 L737.9 888.8 L739.1 898.6 L740.2 890.7 L741.3 895.7 L742.4 887.5 L743.6 893.8 L744.8 890.4 L746.1 893.3 L747.3 889.6 L748.5 894.9 L749.7 884.6 L750.9 891.4 L752.0 888.1 L753.2 890.5 L754.3 887.9 L755.4 891.0 L756.6 887.3 L757.7 894.1 L758.9 888.8 L760.0 891.7 L761.1 887.0 L762.3 892.7 L763.4 890.9 L764.5 895.2 L765.6 891.1 L766.8 895.3 L768.0 890.7 L769.2 895.0 L770.4 887.4 L771.6 894.9 L772.8 885.2 L774.0 894.0 L775.2 884.5 L776.3 893.6 L777.5 887.7 L778.6 896.4 L779.7 888.0 L780.8 898.7 L782.0 889.1 L783.1 898.8 L784.2 893.2 L785.3 900.9 L786.5 892.6 L787.7 895.7 L789.0 892.9 L790.2 894.4 L791.4 890.3 L792.6 895.8 L793.8 888.8 L794.9 891.4 L796.0 885.6 L797.2 893.6 L798.3 889.1 L799.4 890.2 L800.5 887.9 L801.7 890.5 L802.8 881.7 L803.9 891.5 L805.0 880.8 L806.2 885.3 L807.3 879.7 L808.4 887.3 L809.5 885.3 L810.7 890.5 L811.8 889.0 L812.9 899.8 L814.0 893.1 L815.2 898.1 L816.5 893.2 L817.7 897.6 L818.9 891.3 L820.1 898.1 L821.3 889.0 L822.5 899.1 L823.8 893.9 L825.0 898.1 L826.3 891.2 L827.6 900.6 L828.8 894.0 L830.0 899.1 L831.2 890.7 L832.4 900.3 L833.6 890.5 L834.8 899.1 L836.0 888.8 L837.2 893.1 L838.4 886.6 L839.6 893.9 L840.8 889.8 L842.0 896.0 L843.2 889.0 L844.4 892.8 L845.6 886.2 L846.7 894.9 L847.8 887.1 L848.9 891.6 L850.1 888.1 L851.2 891.9 L852.3 886.9 L853.4 893.1 L854.6 886.2 L855.7 894.1 L856.8 891.2 L858.0 896.9 L859.1 890.6 L860.2 903.0 L861.3 894.1 L862.5 902.5 L863.7 895.1 L864.9 898.4 L866.2 891.3 L867.4 898.9 L868.6 894.2 L869.8 895.6 L871.0 893.2 L872.2 898.7 L873.4 888.8 L874.6 895.8 L875.8 889.3 L877.0 896.5 L878.2 890.0 L879.4 898.7 L880.6 888.8 L881.8 896.9 L883.0 888.8 L884.3 891.2 L885.5 886.6 L886.7 892.9 L887.9 888.4 L889.1 893.2 L890.3 889.1 L891.5 892.7 L892.7 890.6 L893.9 896.1 L895.1 891.1 L896.3 897.9 L897.5 890.1 L898.7 897.9 L899.9 886.3 L901.1 896.2 L902.3 885.6 L903.6 893.3 L904.7 886.5 L905.8 895.7 L906.9 889.2 L908.1 896.3 L909.2 889.1 L910.3 897.6 L911.6 893.4 L912.8 897.7 L914.1 897.0 L915.4 901.7 L916.5 894.2 L917.6 901.1 L918.8 890.6 L919.9 895.8 L921.0 886.6 L922.1 892.8 L923.3 885.3 L924.4 889.5 L925.5 882.8 L926.6 890.5 L927.8 879.4 L928.9 889.5 L930.0 880.4 L931.1 890.3 L932.3 881.2 L933.4 890.2 L934.5 885.3 L935.6 890.8 L936.8 883.7 L937.9 892.7 L939.0 886.7 L940.1 897.7 L941.3 893.2 L942.4 898.1 L943.5 893.8 L944.6 896.8 L945.8 890.1 L946.9 898.5 L948.0 886.5 L949.2 894.7 L950.4 888.7 L951.6 892.9 L952.8 888.0 L954.0 896.3 L955.2 888.8 L956.4 896.3 L957.6 888.8 L958.8 894.9 L960.0 890.1 L961.2 893.3 L962.4 886.4 L963.6 894.8 L964.8 887.0 L966.0 891.4 L967.3 880.6 L968.6 885.0 L969.8 880.3 L971.1 882.6 L972.2 873.1 L973.4 882.7 L974.5 872.0 L975.6 878.4 L976.7 872.0 L977.9 877.4 L979.1 871.0 L980.4 881.2 L981.7 879.5 L982.9 887.9 L984.1 878.0 L985.3 885.1 L986.5 882.7 L987.8 884.3 L989.0 879.3 L990.2 886.5 L991.4 880.9 L992.6 885.2 L993.9 881.2 L995.2 890.2 L996.4 883.2 L997.6 891.7 L998.7 886.1 L999.8 889.8 L1000.9 881.2 L1002.1 891.8 L1003.2 883.5 L1004.4 889.7 L1005.6 879.3 L1006.8 887.8 L1008.0 879.2 L1009.2 884.1 L1010.4 873.4 L1011.6 880.5 L1012.8 877.0 L1014.1 880.3 L1015.3 878.1 L1016.5 881.2 L1017.7 879.6 L1018.9 885.6 L1020.1 881.3 L1021.2 886.2 L1022.3 876.2 L1023.5 884.9 L1024.6 874.1 L1025.7 882.6 L1026.8 871.7 L1028.0 882.8 L1029.1 872.8 L1030.2 882.3 L1031.3 875.1 L1032.5 877.0 L1033.6 874.8 L1034.7 878.1 L1035.8 874.8 L1037.0 881.2 L1038.1 874.8 L1039.2 884.4 L1040.3 879.7 L1041.5 884.3 L1042.6 878.9 L1043.7 885.8 L1044.9 882.9 L1046.0 888.7 L1047.1 883.5 L1048.2 892.3 L1049.4 888.6 L1050.5 897.6 L1051.7 886.2 L1053.0 885.5 L1054.3 877.6 L1055.5 880.1 L1056.7 875.2 L1057.8 880.2 L1058.9 877.6 L1060.1 884.8 L1061.2 879.5 L1062.3 891.3 L1063.4 883.7 L1064.6 889.0 L1065.7 884.2 L1066.8 892.4 L1067.9 883.7 L1069.1 892.8 L1070.3 886.5 L1071.5 890.5 L1072.7 882.5 L1073.9 890.6 L1075.1 886.0 L1076.3 889.1 L1077.5 884.0 L1078.6 889.7 L1079.8 884.3 L1080.9 886.9 L1082.0 883.6 L1083.1 887.5 L1084.3 878.2 L1085.4 887.9 L1086.6 882.1 L1087.7 890.7 L1088.9 884.4 L1090.0 888.2 L1091.2 880.6 L1092.4 885.8 L1093.6 880.3 L1094.8 887.3 L1096.0 884.0 L1097.2 886.2 L1098.4 881.1 L1099.7 886.4 L1100.9 880.3 L1102.1 884.2 L1103.3 881.4 L1104.5 888.7 L1105.7 879.7 L1106.9 885.5 L1108.0 881.7 L1109.1 885.0 L1110.3 877.5 L1111.4 887.8 L1112.5 880.5 L1113.6 884.9 L1114.8 881.2 L1115.9 888.5 L1117.0 880.6 L1118.1 887.1 L1119.3 877.7 L1120.4 887.0 L1121.5 878.8 L1122.7 883.3 L1123.8 881.8 L1125.0 885.4 L1126.3 876.2 L1127.6 882.6 L1128.8 870.6 L1130.1 880.3 L1131.4 871.4 L1132.6 879.1 L1133.9 867.6 L1135.2 879.4 L1136.4 874.3 L1137.7 882.1 L1139.0 876.2 L1140.2 887.0 L1141.5 877.3 L1142.8 887.0 L1144.0 884.6 L1145.2 889.6 L1146.3 884.8 L1147.4 890.1 L1148.5 884.0 L1149.7 889.6 L1150.8 887.2 L1151.9 891.8 L1153.1 888.1 L1154.2 891.7 L1155.3 884.1 L1156.4 895.3 L1157.6 888.7 L1158.7 891.3 L1159.8 886.0 L1160.9 897.2 L1162.1 888.0 L1163.2 893.4 L1164.3 890.7 L1165.4 898.4 L1166.6 887.4 L1167.7 894.0 L1168.8 892.1 L1169.9 896.8 L1171.1 892.3 L1172.2 898.3 L1173.3 890.5 L1174.4 897.3 L1175.6 890.6 L1176.7 894.8 L1177.8 885.0 L1178.9 894.6 L1180.1 888.7 L1181.2 890.3 L1182.3 884.9 L1183.4 891.3 L1184.6 886.1 L1185.7 891.5 L1186.8 884.5 L1188.0 893.8 L1189.1 886.0 L1190.2 891.3 L1191.3 885.5 L1192.5 891.1 L1193.6 883.3 L1194.7 889.3 L1195.8 885.1 L1197.0 892.8 L1198.1 888.0 L1199.2 893.5 L1200.3 886.2 L1201.5 892.4 L1202.6 884.9 L1203.7 893.3 L1204.8 887.2 L1206.0 890.9 L1207.1 886.6 L1208.2 889.5 L1209.3 884.1 L1210.5 886.8 L1211.6 883.6 L1212.7 889.3 L1213.8 882.8 L1215.0 893.0 L1216.1 885.5 L1217.2 892.0 L1218.4 884.7 L1219.5 895.4 L1220.6 884.6 L1221.7 896.8 L1222.9 887.6 L1224.0 890.0 L1225.1 881.8 L1226.2 887.3 L1227.4 882.2 L1228.5 888.6 L1229.6 881.5 L1230.7 888.4 L1231.9 881.0 L1233.0 889.6 L1234.1 884.8 L1235.2 894.2 L1236.4 887.0 L1237.5 889.9 L1238.6 883.4 L1239.7 889.4 L1240.9 883.3 L1242.0 887.1 L1243.3 881.1 L1244.5 880.8 L1245.8 875.4 L1247.1 876.8 L1248.3 867.4 L1249.6 871.0 L1250.9 864.4 L1252.1 867.8 L1253.2 857.4 L1254.2 863.0 L1255.3 855.0 L1256.4 863.0 L1257.4 858.5 L1258.5 867.1 L1259.5 863.3 L1260.6 867.4 L1261.7 872.7 L1262.8 879.9 L1264.0 880.3 L1265.2 888.5 L1266.5 887.1 L1267.8 890.4 L1269.0 886.3 L1270.1 895.6 L1271.3 892.5 L1272.4 895.0 L1273.5 890.3 L1274.6 899.7 L1275.8 892.3 L1277.0 897.3 L1278.2 891.9 L1279.4 895.8 L1280.6 889.3 L1281.8 896.6 L1283.0 887.9 L1284.2 892.6 L1285.4 885.4 L1286.6 892.4 L1287.8 890.7 L1289.0 896.1 L1290.2 891.0 L1291.5 893.2 L1292.7 889.5 L1293.8 895.8 L1294.9 885.4 L1296.0 894.5 L1297.2 888.3 L1298.3 892.3 L1299.4 882.3 L1300.6 889.6 L1301.8 884.7 L1303.0 892.3 L1304.2 889.2 L1305.4 892.8 L1306.7 888.6 L1307.9 897.6 L1309.1 889.0 L1310.3 897.8 L1311.5 893.6 L1312.7 896.9 L1313.9 893.5 L1315.1 901.4 L1316.3 894.3 L1317.6 896.0 L1318.8 891.8 L1320.1 894.3 L1321.4 889.7 L1322.6 897.7 L1323.8 890.9 L1325.0 897.6 L1326.2 896.1 L1327.4 901.8 L1328.6 895.5 L1329.8 903.9 L1330.9 895.9 L1332.1 903.7 L1333.2 895.5 L1334.3 897.3 L1335.4 890.7 L1336.6 896.0 L1337.8 885.0 L1339.1 891.9 L1340.4 882.1 L1341.6 886.9 L1342.8 881.0 L1343.9 892.6 L1345.0 887.0 L1346.1 891.9 L1347.3 890.6 L1348.4 896.7 L1349.6 888.8 L1350.8 896.2 L1352.0 890.3 L1353.2 898.2 L1354.4 888.5 L1355.6 895.4 L1356.8 889.5 L1358.0 896.6 L1359.1 893.2 L1360.2 898.2 L1361.3 889.1 L1362.5 897.9 L1363.6 893.4 L1364.7 900.1 L1365.8 891.6 L1367.0 898.2 L1368.1 889.4 L1369.2 895.4 L1370.3 890.3 L1371.5 895.0 L1372.6 891.3 L1373.7 892.8 L1374.9 887.1 L1376.0 894.0 L1377.1 885.6 L1378.2 891.5 L1379.4 888.3 L1380.5 891.8 L1381.6 884.4 L1382.7 894.7 L1383.9 884.3 L1385.0 892.8 L1386.1 888.3 L1387.2 891.9 L1388.4 887.4 L1389.6 889.8 L1390.8 885.5 L1392.0 891.2 L1393.1 888.1 L1394.3 892.5 L1395.5 883.5 L1396.7 894.9 L1397.9 886.1 L1399.1 890.2 L1400.3 885.6 L1401.5 892.7 L1402.7 889.3 L1403.9 894.9 L1405.1 889.3 L1406.3 899.9 L1407.5 894.7 L1408.6 899.9 L1409.8 894.6 L1410.9 904.3 L1412.0 895.9 L1413.1 900.7 L1414.3 896.0 L1415.4 904.2 L1416.6 895.3 L1417.7 901.2 L1418.9 891.0 L1420.0 898.2 L1421.1 891.1 L1422.3 899.7 L1423.4 895.2 L1424.5 897.5 L1425.6 891.2 L1426.8 900.1 L1427.9 894.3 L1429.0 903.0 L1430.1 893.9 L1431.3 901.0 L1432.5 895.9 L1433.7 902.7 L1434.9 896.4 L1436.0 901.5 L1437.2 893.9 L1438.4 902.6 L1439.6 897.7 L1440.8 900.7 L1442.0 895.0 L1443.1 902.1 L1444.2 894.8 L1445.3 900.2 L1446.5 891.3 L1447.6 892.3 L1448.7 888.2 L1449.8 891.3 L1451.0 883.6 L1452.1 891.8 L1453.2 884.4 L1454.3 889.3 L1455.5 883.0 L1456.6 889.5 L1457.7 885.6 L1458.8 891.6 L1460.0 890.1 L1461.1 897.0 L1462.2 893.0 L1463.4 898.4 L1464.6 890.9 L1465.8 896.5 L1467.0 888.3 L1468.3 895.0 L1469.5 886.0 L1470.7 896.4 L1471.9 888.8 L1473.1 893.2 L1474.3 885.5 L1475.5 892.1 L1476.7 888.0 L1477.9 893.6 L1479.1 885.0 L1480.2 890.6 L1481.4 883.9 L1482.5 891.3 L1483.6 880.7 L1484.7 884.3 L1485.9 876.7 L1487.0 884.3 L1488.1 876.6 L1489.2 885.7 L1490.4 878.5 L1491.5 886.1 L1492.6 876.5 L1493.7 883.9 L1494.9 877.9 L1496.0 886.5 L1497.1 879.7 L1498.2 888.8 L1499.4 880.9 L1500.5 886.8 L1501.6 881.8 L1502.8 885.2 L1503.9 879.4 L1505.0 888.6 L1506.1 878.4 L1507.3 883.9 L1508.4 879.3 L1509.5 885.5 L1510.7 881.5 L1511.9 884.5 L1513.1 877.3 L1514.3 888.5 L1515.5 881.8 L1516.7 888.9 L1518.0 880.0 L1519.1 885.6 L1520.2 877.8 L1521.3 882.5 L1522.5 877.6 L1523.6 879.0 L1524.7 873.2 L1525.8 880.5 L1527.0 871.6 L1528.1 878.9 L1529.2 872.2 L1530.3 876.7 L1531.5 869.4 L1532.6 877.3 L1533.7 871.9 L1534.8 881.2 L1536.0 874.4 L1537.1 882.4 L1538.2 878.2 L1539.4 881.2 L1540.6 874.4 L1541.8 881.1 L1543.0 879.2 L1544.3 880.8 L1545.5 875.8 L1546.7 881.8 L1547.9 878.4 L1549.1 885.1 L1550.3 878.0 L1551.5 886.7 L1552.7 881.0 L1553.9 885.7 L1555.1 880.9 L1556.3 891.2 L1557.5 883.3 L1558.7 893.0 L1559.9 884.8 L1561.1 893.8 L1562.3 884.9 L1563.6 894.7 L1564.8 889.7 L1566.0 895.2 L1567.2 883.4 L1568.4 890.5 L1569.6 887.6 L1570.8 890.3 L1572.0 886.4 L1573.1 889.4 L1574.2 885.3 L1575.4 887.5 L1576.5 884.7 L1577.6 887.5 L1578.8 881.9 L1579.9 889.7 L1581.0 883.7 L1582.1 888.9 L1583.3 882.8 L1584.4 895.1 L1585.5 887.3 L1586.8 888.9 L1588.0 881.8 L1589.3 883.2 L1590.6 874.6 L1591.8 875.9 L1593.1 870.1 L1594.4 875.7 L1595.6 864.6 L1596.9 876.2 L1598.2 868.9 L1599.4 879.9 L1600.7 872.0 L1602.0 885.4 L1603.2 877.5 L1604.5 887.7 L1605.8 883.3 L1607.0 892.8 L1608.2 884.5 L1609.4 895.5 L1610.6 889.3 L1611.8 895.0 L1613.0 892.4 L1614.2 897.8 L1615.4 891.9 L1616.6 901.1 L1617.8 895.1 L1619.0 900.3 L1620.2 892.0 L1621.5 899.9 L1622.7 896.6 L1623.9 901.2 L1625.1 894.6 L1626.3 898.2 L1627.5 894.5 L1628.7 896.9 L1629.9 894.8 L1631.1 898.7 L1632.3 894.1 L1633.5 895.0 L1634.7 890.2 L1635.9 898.8 L1637.1 887.2 L1638.3 893.9 L1639.5 885.3 L1640.8 892.5 L1642.0 891.0 L1643.2 893.5 L1644.4 892.9 L1645.6 898.3 L1646.8 890.5 L1648.0 899.0 L1649.2 890.7 L1650.4 898.4 L1651.6 889.6 L1652.8 898.8 L1654.0 891.2 L1655.2 895.9 L1656.4 891.4 L1657.6 898.0 L1658.7 890.9 L1659.8 898.5 L1660.9 895.5 L1662.1 903.4 L1663.2 898.4 L1664.4 902.0 L1665.6 896.1 L1666.8 901.3 L1668.0 892.6 L1669.2 896.7 L1670.4 890.4 L1671.6 897.0 L1672.8 891.5 L1674.1 898.5 L1675.3 888.0 L1676.5 894.5 L1677.7 887.6 L1678.9 892.5 L1680.1 887.5 L1681.2 892.2 L1682.3 887.6 L1683.5 897.5 L1684.6 888.3 L1685.7 893.4 L1686.8 889.8 L1688.0 896.5 L1689.1 890.9 L1690.2 895.5 L1691.3 892.7 L1692.5 898.3 L1693.6 895.0 L1694.7 900.7 L1695.8 895.2 L1697.0 899.7 L1698.1 895.8 L1699.2 898.1 L1700.3 889.4 L1701.5 896.3 L1702.6 892.3 L1703.7 894.9 L1704.9 887.3 L1706.1 894.5 L1707.3 891.6 L1708.6 896.1 L1709.8 890.7 L1711.0 898.5 L1712.2 894.9 L1713.4 901.1 L1714.5 893.6 L1715.7 900.2 L1716.9 892.9 L1718.1 901.2 L1719.3 895.1 L1720.4 897.7 L1721.6 893.8 L1722.8 897.9 L1724.0 890.9 L1725.2 898.7 L1726.4 892.5 L1727.6 897.7 L1728.8 888.8 L1730.0 897.1 L1731.2 890.0 L1732.4 896.6 L1733.6 888.3 L1734.8 894.6 L1736.0 888.7 L1737.2 892.4 L1738.3 887.9 L1739.5 895.8 L1740.7 888.0 L1741.9 892.3 L1743.1 885.7 L1744.3 892.9 L1745.4 888.4 L1746.5 893.5 L1747.7 886.6 L1748.8 892.6 L1750.0 891.4 L1751.1 897.4 L1752.2 887.5 L1753.3 894.1 L1754.4 892.5 L1755.5 897.7 L1756.6 891.9 L1757.7 898.3 L1758.9 893.7 L1760.1 897.6 L1761.3 893.3 L1762.5 897.2 L1763.6 890.7 L1764.8 898.5 L1766.0 890.2 L1767.2 900.7 L1768.4 891.8 L1769.6 901.1 L1770.7 893.1 L1771.8 896.4 L1772.9 889.7 L1774.1 894.6 L1775.2 888.2 L1776.3 893.4 L1777.4 884.2 L1778.6 890.2 L1779.7 878.4 L1780.8 890.9 L1781.9 883.7 L1783.1 892.7 L1784.2 882.6 L1785.3 890.9 L1786.4 886.2 L1787.6 896.1 L1788.9 889.3 L1790.1 895.0 L1791.3 892.3 L1792.5 897.2 L1793.7 889.6 L1794.9 898.6 L1796.0 893.6 L1797.1 899.1 L1798.3 891.9 L1799.4 898.3 L1800.5 891.0 L1801.6 895.7 L1802.8 892.6 L1803.9 897.9 L1805.0 888.4 L1806.1 894.7 L1807.3 890.0 L1808.4 897.3 L1809.5 890.8 L1810.6 899.9 L1811.8 890.0 L1812.9 897.3 L1814.0 893.2 L1815.2 899.8 L1816.3 894.5 L1817.4 901.5 L1818.5 895.2 L1819.7 899.2 L1820.8 893.9 L1821.9 899.3 L1823.0 895.2 L1824.2 897.6 L1825.3 890.0 L1826.4 900.6 L1827.5 893.8 L1828.7 898.4 L1829.8 894.5 L1830.9 896.1 L1832.0 893.2 L1833.2 900.5 L1834.3 892.2 L1835.4 896.1 L1836.6 892.6 L1837.8 893.9 L1839.0 886.1 L1840.2 895.9 L1841.4 885.0 L1842.7 895.0 L1843.9 884.3 L1845.1 892.3 L1846.3 890.1 L1847.5 894.8 L1848.7 893.1 L1849.9 896.6 L1851.1 891.9 L1852.3 900.8 L1853.4 896.5 L1854.6 898.6 L1855.7 890.7 L1856.8 900.5 L1857.9 890.3 L1859.1 898.7 L1860.2 888.1 L1861.3 896.7 L1862.4 889.9 L1863.6 896.0 L1864.7 890.2 L1865.8 892.8 L1866.9 890.0 L1868.1 894.8 L1869.2 890.5 L1870.3 892.5 L1871.4 889.5 L1872.6 893.8 L1873.7 885.4 L1874.8 894.2 L1875.9 885.7 L1877.1 895.4 L1878.2 887.1 L1879.3 893.1 L1880.5 888.2 L1881.6 893.1 L1882.7 890.8" stroke="#05a114" stroke-width="10"/>
</g>
<g stroke="#8c8c8c" stroke-width="7.2" fill="none">
<line x1="291.6" y1="1030.5" x2="291.6" y2="31.9" stroke-dasharray="30 29.3"/>
<line x1="978.7" y1="1030.5" x2="978.7" y2="31.9" stroke-dasharray="30 29.3"/>
<line x1="1521.3" y1="1030.5" x2="1521.3" y2="31.9" stroke-dasharray="30 29.3"/>
</g>
<g fill="none">
<line x1="177.3" y1="718.8" x2="177.3" y2="959.4" stroke="#1c1c1c" stroke-width="4.8" stroke-dasharray="15.5 4"/>
<line x1="571.1" y1="721.9" x2="571.1" y2="955.8" stroke="#000" stroke-width="4.4" stroke-dasharray="15.5 4"/>
<line x1="1254.8" y1="685.0" x2="1254.8" y2="921.9" stroke="#585858" stroke-width="6.4" stroke-dasharray="15.5 4"/>
</g>
<line x1="386" y1="282.3" x2="292.7" y2="414.8" stroke="#111" stroke-width="3.3"/>
<g stroke="#333" stroke-width="3.8" fill="none" opacity="0.55">
<line x1="178.3" y1="1031.1" x2="178.3" y2="1011.1"/>
<line x1="178.3" y1="31.9" x2="178.3" y2="51.9"/>
<line x1="518.3" y1="1031.1" x2="518.3" y2="1011.1"/>
<line x1="518.3" y1="31.9" x2="518.3" y2="51.9"/>
<line x1="858.3" y1="1031.1" x2="858.3" y2="1011.1"/>
<line x1="858.3" y1="31.9" x2="858.3" y2="51.9"/>
<line x1="1198.3" y1="1031.1" x2="1198.3" y2="1011.1"/>
<line x1="1198.3" y1="31.9" x2="1198.3" y2="51.9"/>
<line x1="1538.3" y1="1031.1" x2="1538.3" y2="1011.1"/>
<line x1="1538.3" y1="31.9" x2="1538.3" y2="51.9"/>
<line x1="111.3" y1="174.6" x2="131.3" y2="174.6"/>
<line x1="1878.3" y1="174.6" x2="1858.3" y2="174.6"/>
<line x1="111.3" y1="317.4" x2="131.3" y2="317.4"/>
<line x1="1878.3" y1="317.4" x2="1858.3" y2="317.4"/>
<line x1="111.3" y1="460.1" x2="131.3" y2="460.1"/>
<line x1="1878.3" y1="460.1" x2="1858.3" y2="460.1"/>
<line x1="111.3" y1="602.9" x2="131.3" y2="602.9"/>
<line x1="1878.3" y1="602.9" x2="1858.3" y2="602.9"/>
<line x1="111.3" y1="745.6" x2="131.3" y2="745.6"/>
<line x1="1878.3" y1="745.6" x2="1858.3" y2="745.6"/>
<line x1="111.3" y1="888.4" x2="131.3" y2="888.4"/>
<line x1="1878.3" y1="888.4" x2="1858.3" y2="888.4"/>
</g>
<rect x="111.3" y="31.9" width="1767.0" height="999.2" fill="none" stroke="#000" stroke-width="5.8"/>
<text x="178.9" y="1127.5" font-size="99" text-anchor="middle" stroke="#000" stroke-width="1.0">40</text>
<text x="518.9" y="1127.5" font-size="99" text-anchor="middle" stroke="#000" stroke-width="1.0">50</text>
<text x="858.9" y="1127.5" font-size="99" text-anchor="middle" stroke="#000" stroke-width="1.0">60</text>
<text x="1198.9" y="1127.5" font-size="99" text-anchor="middle" stroke="#000" stroke-width="1.0">70</text>
<text x="1538.9" y="1127.5" font-size="99" text-anchor="middle" stroke="#000" stroke-width="1.0">80</text>
<text x="1878.9" y="1127.5" font-size="99" text-anchor="middle" stroke="#000" stroke-width="1.0">90</text>
<text x="831.3" y="1225.8" font-size="69.5" stroke="#000" stroke-width="0.8">2</text>
<text class="it" x="893.5" y="1226.5" font-size="67" letter-spacing="7.3" style="fill:#2a2a2a">theta</text>
<text class="rm" x="1079" y="1222" font-size="72.7" letter-spacing="1.8" style="fill:#2a2a2a">(°)</text>
<text transform="translate(72.0 836) rotate(-90)" font-size="69.6" stroke="#000" stroke-width="1.3">Intensity (arb. u.)</text>
<text transform="translate(197.9 718.8) rotate(-90)" font-size="58.8" stroke="#000" stroke-width="1.5">Substrate</text>
<text transform="translate(591.3 718.6) rotate(-90)" font-size="59.6" stroke="#000" stroke-width="1.5">Substrate</text>
<text transform="translate(1265.6 651.8) rotate(-90)" font-size="59.6" stroke="#000" stroke-width="1.5">Substrate</text>
<text transform="translate(442.5 453.6) rotate(-90)" font-size="53.7" stroke="#000" stroke-width="1.5">110 α-(Fe,Pd)</text>
<text transform="translate(1058.0 455.5) rotate(-90)" font-size="54.2" stroke="#000" stroke-width="1.5">200 α-(Fe,Pd)</text>
<text transform="translate(1616.8 455.5) rotate(-90)" font-size="54.2" stroke="#000" stroke-width="1.5">211 α-(Fe,Pd)</text>
<text x="1046.7" y="758.9" font-size="49.5" style="fill:#0078b9;stroke:#0078b9;stroke-width:0.9">200 nm - ω=0.6</text>
<text x="1062.2" y="956" font-size="49.5" style="fill:#05a114;stroke:#05a114;stroke-width:0.9">50 nm - ω=0.6</text>
</g>
</svg></body></html>
